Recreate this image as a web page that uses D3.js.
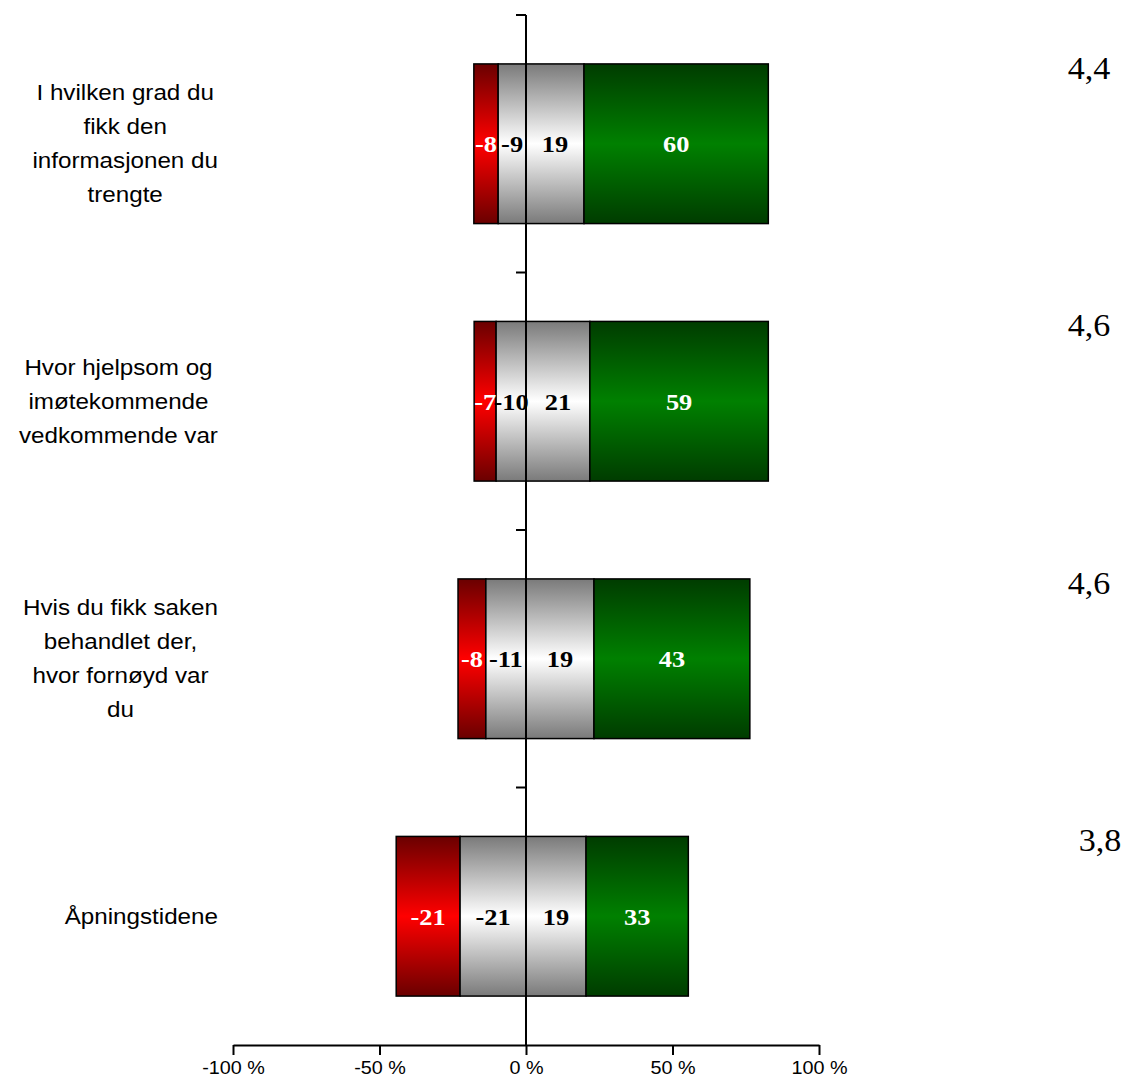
<!DOCTYPE html>
<html>
<head>
<meta charset="utf-8">
<script src="https://cdn.jsdelivr.net/npm/d3@7"></script>
<style>
  body { margin: 0; background: #fff; }
  svg { display: block; }
</style>
</head>
<body>
<div id="chart"></div>
<script>
// Questions (top to bottom)
let categories = [
  ['I hvilken grad du', 'fikk den', 'informasjonen du', 'trengte'],
  ['Hvor hjelpsom og', 'imøtekommende', 'vedkommende var'],
  ['Hvis du fikk saken', 'behandlet der,', 'hvor fornøyd var', 'du'],
  ['Åpningstidene']
]

// Segment widths in percent
let veryNeg = [8.3, 7.5, 9.5, 21.8]
let neg = [9.5, 10.2, 13.7, 22.5]
let pos = [19.8, 21.8, 23.2, 20.5]
let veryPos = [62.9, 60.9, 53.2, 34.9]

// Labels printed inside the segments
let veryNegLabels = ['-8', '-7', '-8', '-21']
let negLabels = ['-9', '-10', '-11', '-21']
let posLabels = ['19', '21', '19', '19']
let veryPosLabels = ['60', '59', '43', '33']

// Mean scores on the right
let means = ['4,4', '4,6', '4,6', '3,8']

let xTicks = [-100, -50, 0, 50, 100]

let width = 1125
let height = 1081
let stretch = 1.1 // text in the original looks a bit wide

let svg = d3.select('#chart').append('svg')
  .attr('width', width)
  .attr('height', height)

let x = d3.scaleLinear().domain([-100, 100]).range([233, 819])
let y = d3.scaleBand().domain(d3.range(categories.length)).range([15, 1045]).paddingInner(0.38).paddingOuter(0.19)
let band = d3.scaleBand().domain(d3.range(categories.length)).range([15, 1045])

// Vertical gradients
let defs = svg.append('defs')
function addGradient(id, edge, mid) {
  let g = defs.append('linearGradient')
    .attr('id', id)
    .attr('x1', '0%').attr('y1', '0%')
    .attr('x2', '0%').attr('y2', '100%')
  g.append('stop').attr('offset', '0%').attr('stop-color', edge)
  g.append('stop').attr('offset', '50%').attr('stop-color', mid)
  g.append('stop').attr('offset', '100%').attr('stop-color', edge)
}
addGradient('grad-red', '#6a0000', '#ff0000')
addGradient('grad-gray', '#7a7a7a', '#ffffff')
addGradient('grad-green', '#003c00', '#008000')

// Build stacked segments from the arrays
let segments = []
categories.forEach(function(c, i) {
  let a = -neg[i] - veryNeg[i]
  segments.push({i: i, x0: a, x1: -neg[i], fill: 'url(#grad-red)', text: veryNegLabels[i], color: '#fff'})
  segments.push({i: i, x0: -neg[i], x1: 0, fill: 'url(#grad-gray)', text: negLabels[i], color: '#000'})
  segments.push({i: i, x0: 0, x1: pos[i], fill: 'url(#grad-gray)', text: posLabels[i], color: '#000'})
  segments.push({i: i, x0: pos[i], x1: pos[i] + veryPos[i], fill: 'url(#grad-green)', text: veryPosLabels[i], color: '#fff'})
})

svg.append('g').selectAll('rect')
  .data(segments)
  .enter().append('rect')
  .attr('x', d => x(d.x0))
  .attr('y', d => y(d.i))
  .attr('width', d => x(d.x1) - x(d.x0))
  .attr('height', y.bandwidth())
  .style('fill', d => d.fill)
  .style('stroke', '#000')
  .style('stroke-width', 1.5)

// Vertical zero axis with ticks at band edges
let axisG = svg.append('g')
axisG.append('line')
  .attr('x1', x(0)).attr('x2', x(0))
  .attr('y1', band.range()[0]).attr('y2', band.range()[1])
  .style('stroke', '#000').style('stroke-width', 2)
axisG.selectAll('line.ytick')
  .data(d3.range(categories.length))
  .enter().append('line')
  .attr('class', 'ytick')
  .attr('x1', x(0) - 10).attr('x2', x(0))
  .attr('y1', d => band(d)).attr('y2', d => band(d))
  .style('stroke', '#000').style('stroke-width', 2)

// Segment labels
svg.append('g').selectAll('text')
  .data(segments)
  .enter().append('text')
  .attr('transform', d => `translate(${(x(d.x0) + x(d.x1)) / 2}, ${y(d.i) + y.bandwidth() / 2}) scale(${stretch}, 1)`)
  .attr('dy', '0.35em')
  .attr('text-anchor', 'middle')
  .style('font-family', '"Liberation Serif", "Times New Roman", serif')
  .style('font-weight', 'bold')
  .style('font-size', '24px')
  .style('fill', d => d.color)
  .text(d => d.text)

// X axis
let xAxis = d3.axisBottom(x)
  .tickValues(xTicks)
  .tickSize(10)
  .tickSizeOuter(0)
  .tickFormat(d => `${d} %`)

let xg = svg.append('g')
  .attr('transform', `translate(0, ${band.range()[1]})`)
  .call(xAxis)
xg.select('.domain').style('stroke-width', 2)
xg.selectAll('.tick line').style('stroke-width', 2)
xg.selectAll('.tick text')
  .attr('y', 16)
  .attr('transform', `scale(${stretch}, 1)`)
  .style('font-family', '"Liberation Sans", Arial, sans-serif')
  .style('font-size', '18px')
  .style('fill', '#000')

// Category labels on the left: lines centred within a block whose right edge is fixed
let labelRight = 218
let catG = svg.append('g').selectAll('g')
  .data(categories)
  .enter().append('g')

let catText = catG.append('text')
  .attr('text-anchor', 'middle')
  .style('font-family', '"Liberation Sans", Arial, sans-serif')
  .style('font-size', '22px')
  .style('fill', '#000')

catText.selectAll('tspan')
  .data(d => d)
  .enter().append('tspan')
  .attr('x', 0)
  .attr('y', (d, j) => j * 34)
  .attr('dy', '0.35em')
  .text(d => d)

catText.each(function(d, i) {
  let maxW = 0
  d3.select(this).selectAll('tspan').each(function() {
    maxW = Math.max(maxW, this.getComputedTextLength())
  })
  let cx = labelRight - maxW * stretch / 2
  let cy = y(i) + y.bandwidth() / 2 - (d.length - 1) * 17
  d3.select(this).attr('transform', `translate(${cx}, ${cy}) scale(${stretch}, 1)`)
})

// Mean scores on the right
svg.append('g').selectAll('text')
  .data(means)
  .enter().append('text')
  .attr('transform', (d, i) => `translate(${i === 3 ? 1100 : 1089}, ${y(i) + y.bandwidth() / 2 - 76}) scale(${stretch}, 1)`)
  .attr('dy', '0.35em')
  .attr('text-anchor', 'middle')
  .style('font-family', '"Liberation Serif", "Times New Roman", serif')
  .style('font-size', '31px')
  .style('fill', '#000')
  .text(d => d)
</script>
</body>
</html>
